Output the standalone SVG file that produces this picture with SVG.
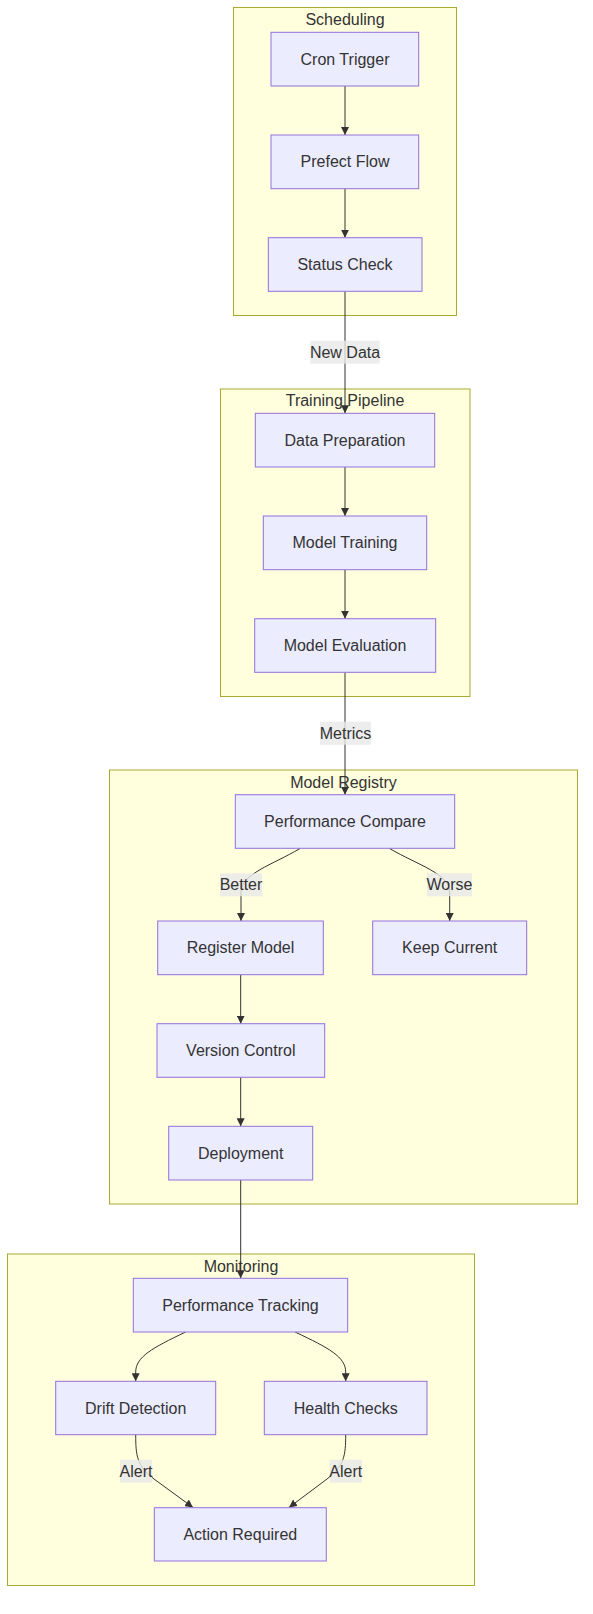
<svg xmlns="http://www.w3.org/2000/svg" width="593" height="1614" viewBox="0 0 593 1614">
<style>
.cluster{fill:#ffffde;stroke:#aaaa33;stroke-width:1}
.node rect{fill:#ececff;stroke:#9370db;stroke-width:1}
text{font-family:"Liberation Sans",Arial,sans-serif;font-size:16px;fill:#333;text-anchor:middle;dominant-baseline:central}
.edge{fill:none;stroke:#333;stroke-width:1}
.lbl{fill:#e8e8e8;fill-opacity:0.8}
</style>
<defs>
<marker id="arrow" viewBox="0 0 10 10" refX="10" refY="5" markerWidth="8" markerHeight="8" markerUnits="userSpaceOnUse" orient="auto">
<path d="M0,0 L10,5 L0,10 z" fill="#333"/>
</marker>
</defs>
<rect width="593" height="1614" fill="#ffffff"/>
<g id="clusters">
<g id="cluster-scheduling"><rect class="cluster" x="233.5" y="7.5" width="223" height="308"/><text x="345" y="19.5">Scheduling</text></g>
<g id="cluster-training"><rect class="cluster" x="220.5" y="389" width="249.5" height="307.5"/><text x="345" y="400.5">Training Pipeline</text></g>
<g id="cluster-registry"><rect class="cluster" x="109.5" y="770" width="468" height="434"/><text x="343.5" y="782">Model Registry</text></g>
<g id="cluster-monitoring"><rect class="cluster" x="7.5" y="1254" width="467" height="331.5"/><text x="241" y="1266">Monitoring</text></g>
</g>
<g id="connectors">
<path class="edge" d="M345,86 L345,135" marker-end="url(#arrow)"/>
<path class="edge" d="M345,188.7 L345,237.7" marker-end="url(#arrow)"/>
<path class="edge" d="M345,291.3 L345,413.3" marker-end="url(#arrow)"/>
<path class="edge" d="M345,467 L345,516" marker-end="url(#arrow)"/>
<path class="edge" d="M345,569.7 L345,618.7" marker-end="url(#arrow)"/>
<path class="edge" d="M345,672.3 L345,794.7" marker-end="url(#arrow)"/>
<path class="edge" d="M300,848.5 C272,865 241,874 241,892 L241,921" marker-end="url(#arrow)"/>
<path class="edge" d="M389.5,848.5 C418,865 449.7,874 449.7,892 L449.7,921" marker-end="url(#arrow)"/>
<path class="edge" d="M240.7,974.7 L240.7,1023.7" marker-end="url(#arrow)"/>
<path class="edge" d="M240.7,1077.3 L240.7,1126.3" marker-end="url(#arrow)"/>
<path class="edge" d="M240.7,1180 L240.7,1278.3" marker-end="url(#arrow)"/>
<path class="edge" d="M185.7,1332 C152,1348 135.7,1357 135.7,1372 L135.7,1381.3" marker-end="url(#arrow)"/>
<path class="edge" d="M295,1332 C329,1348 345.7,1357 345.7,1372 L345.7,1381.3" marker-end="url(#arrow)"/>
<path class="edge" d="M135.7,1434.7 C135.7,1456 137,1466 154,1479 L193,1507.5" marker-end="url(#arrow)"/>
<path class="edge" d="M345.7,1434.7 C345.7,1456 344,1466 327,1479 L289,1507.5" marker-end="url(#arrow)"/>
</g>
<g id="edge-labels">
<g><rect class="lbl" x="310.3" y="340.7" width="69.4" height="23"/><text x="345" y="352.2">New Data</text></g>
<g><rect class="lbl" x="320" y="721.7" width="51" height="23"/><text x="345.5" y="733.2">Metrics</text></g>
<g><rect class="lbl" x="220" y="873.3" width="42" height="23"/><text x="241" y="884.8">Better</text></g>
<g><rect class="lbl" x="427" y="873.3" width="45" height="23"/><text x="449.5" y="884.8">Worse</text></g>
<g><rect class="lbl" x="120" y="1459.7" width="32" height="23"/><text x="136" y="1471.2">Alert</text></g>
<g><rect class="lbl" x="329.7" y="1459.7" width="32.3" height="23"/><text x="345.8" y="1471.2">Alert</text></g>
</g>
<g id="node-cron" class="node"><rect x="271" y="32.3" width="147.7" height="53.7"/><text x="345" y="59.2">Cron Trigger</text></g>
<g id="node-prefect" class="node"><rect x="271" y="135" width="147.7" height="53.7"/><text x="345" y="161.9">Prefect Flow</text></g>
<g id="node-status" class="node"><rect x="268.3" y="237.7" width="153.7" height="53.6"/><text x="345" y="264.5">Status Check</text></g>
<g id="node-dataprep" class="node"><rect x="255.3" y="413.3" width="179.4" height="53.7"/><text x="345" y="440.2">Data Preparation</text></g>
<g id="node-training" class="node"><rect x="263.3" y="516" width="163.4" height="53.7"/><text x="345" y="542.9">Model Training</text></g>
<g id="node-eval" class="node"><rect x="254.7" y="618.7" width="181" height="53.6"/><text x="345" y="645.5">Model Evaluation</text></g>
<g id="node-compare" class="node"><rect x="235.3" y="794.7" width="219.4" height="53.6"/><text x="345" y="821.5">Performance Compare</text></g>
<g id="node-register" class="node"><rect x="157.7" y="921" width="165.6" height="53.7"/><text x="240.5" y="947.9">Register Model</text></g>
<g id="node-keep" class="node"><rect x="372.7" y="921" width="154" height="53.7"/><text x="449.7" y="947.9">Keep Current</text></g>
<g id="node-version" class="node"><rect x="157" y="1023.7" width="167.7" height="53.6"/><text x="240.8" y="1050.5">Version Control</text></g>
<g id="node-deploy" class="node"><rect x="168.7" y="1126.3" width="144" height="53.7"/><text x="240.7" y="1153.2">Deployment</text></g>
<g id="node-tracking" class="node"><rect x="133.3" y="1278.3" width="214.4" height="53.7"/><text x="240.5" y="1305.2">Performance Tracking</text></g>
<g id="node-drift" class="node"><rect x="55.7" y="1381.3" width="160" height="53.4"/><text x="135.7" y="1408">Drift Detection</text></g>
<g id="node-health" class="node"><rect x="264.3" y="1381.3" width="162.7" height="53.4"/><text x="345.7" y="1408">Health Checks</text></g>
<g id="node-action" class="node"><rect x="154.3" y="1507.7" width="172" height="53.3"/><text x="240.3" y="1534.4">Action Required</text></g>
</svg>
